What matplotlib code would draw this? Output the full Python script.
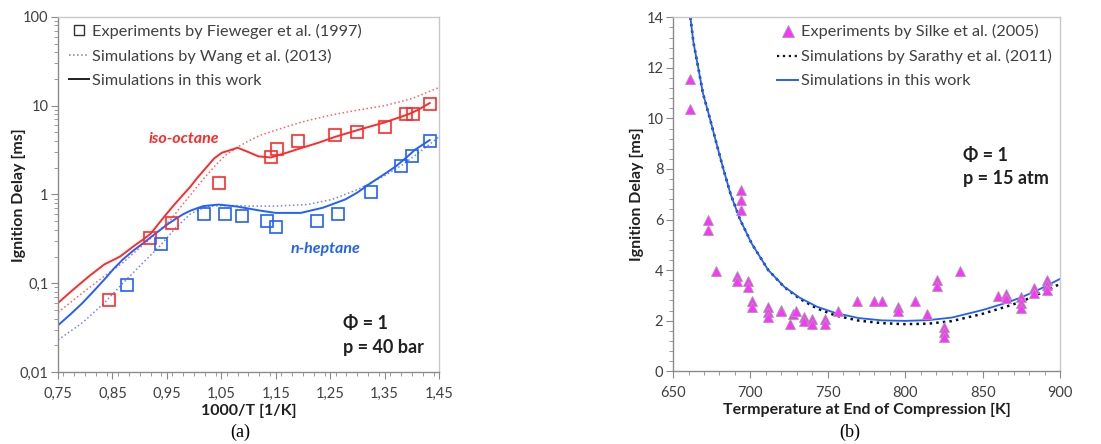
import matplotlib
matplotlib.use("Agg")
import matplotlib.pyplot as plt
from matplotlib.lines import Line2D
from matplotlib.ticker import FixedLocator, MultipleLocator, FuncFormatter, LogLocator, NullFormatter
import numpy as np

plt.rcParams['font.family'] = ['Lato', 'DejaVu Sans']

# ---- panel (a): 1000/T vs ignition delay (log) ----
# experiments, Fieweger et al. (1997)
iso_exp_x = [0.844, 0.919, 0.960, 1.046, 1.141, 1.152, 1.191, 1.259, 1.299, 1.351, 1.389, 1.402, 1.433]
iso_exp_y = [0.065, 0.32, 0.48, 1.35, 2.65, 3.26, 4.0, 4.68, 5.06, 5.77, 8.07, 8.07, 10.5]
hep_exp_x = [0.877, 0.939, 1.018, 1.057, 1.088, 1.134, 1.150, 1.226, 1.265, 1.325, 1.380, 1.400, 1.433]
hep_exp_y = [0.095, 0.277, 0.60, 0.60, 0.57, 0.50, 0.43, 0.50, 0.60, 1.07, 2.1, 2.72, 4.0]

# simulations in this work
iso_sim_x = [0.75, 0.778, 0.807, 0.835, 0.864, 0.892, 0.906, 0.920, 0.935, 0.949, 0.963, 0.977, 0.992,
             1.006, 1.022, 1.037, 1.051, 1.066, 1.080, 1.100, 1.118, 1.141, 1.170, 1.196, 1.230,
             1.259, 1.300, 1.351, 1.395, 1.412, 1.433]
iso_sim_y = [0.060, 0.085, 0.12, 0.163, 0.20, 0.27, 0.31, 0.36, 0.47, 0.60, 0.76, 0.95, 1.2,
             1.54, 2.0, 2.55, 2.95, 3.15, 3.36, 3.0, 2.69, 2.61, 2.95, 3.32, 3.85,
             4.45, 5.3, 6.5, 8.05, 9.0, 10.7]
hep_sim_x = [0.75, 0.775, 0.795, 0.815, 0.835, 0.852, 0.869, 0.889, 0.909, 0.923, 0.938, 0.952, 0.966,
             0.980, 0.994, 1.017, 1.045, 1.080, 1.120, 1.150, 1.196, 1.237, 1.278, 1.300, 1.325,
             1.350, 1.371, 1.390, 1.406, 1.433]
hep_sim_y = [0.0336, 0.046, 0.060, 0.081, 0.11, 0.145, 0.185, 0.235, 0.29, 0.34, 0.40, 0.465, 0.53,
             0.60, 0.66, 0.74, 0.77, 0.73, 0.66, 0.62, 0.62, 0.71, 0.88, 1.05, 1.35,
             1.7, 2.08, 2.6, 3.19, 4.1]

# simulations by Wang et al. (2013)
iso_wang_x = [0.75, 0.795, 0.835, 0.869, 0.909, 0.925, 0.941, 0.957, 0.975, 0.994, 1.008, 1.023,
              1.040, 1.057, 1.083, 1.100, 1.120, 1.150, 1.200, 1.250, 1.300, 1.350, 1.400, 1.450]
iso_wang_y = [0.047, 0.078, 0.12, 0.17, 0.28, 0.34, 0.42, 0.52, 0.72, 1.0, 1.28, 1.64,
              2.15, 2.75, 3.5, 4.0, 4.6, 5.3, 6.6, 7.8, 8.9, 10.0, 12.0, 16.0]
hep_wang_x = [0.75, 0.795, 0.835, 0.869, 0.909, 0.938, 0.966, 0.994, 1.023, 1.050, 1.080, 1.100,
              1.150, 1.208, 1.254, 1.301, 1.348, 1.383, 1.412, 1.450]
hep_wang_y = [0.023, 0.036, 0.060, 0.10, 0.177, 0.266, 0.42, 0.61, 0.73, 0.75, 0.75, 0.74,
              0.74, 0.77, 0.88, 1.14, 1.6, 2.16, 2.92, 4.45]

# ---- panel (b): temperature vs ignition delay ----
silke_T = [661.2, 661.2, 672.9, 672.9, 677.7, 691.2, 691.2, 693.7, 693.7, 693.7, 698.7, 698.7,
           701.3, 701.3, 711.3, 711.3, 711.3, 719.8, 719.8, 725.5, 727.8, 729.7, 734.7, 734.7,
           740.0, 740.0, 748.1, 748.1, 756.8, 768.8, 779.9, 785.1, 795.2, 795.2, 806.3, 814.0,
           820.8, 820.8, 825.3, 825.3, 825.3, 835.2, 859.8, 864.8, 864.8, 874.8, 874.8, 874.8,
           883.0, 883.0, 891.5, 891.5, 891.5]
silke_tau = [11.57, 10.36, 5.97, 5.57, 3.97, 3.76, 3.55, 7.18, 6.79, 6.37, 3.56, 3.35,
             2.77, 2.53, 2.53, 2.34, 2.16, 2.44, 2.40, 1.88, 2.27, 2.38, 2.15, 1.98,
             2.05, 1.87, 2.07, 1.87, 2.37, 2.78, 2.78, 2.78, 2.55, 2.38, 2.78, 2.27,
             3.62, 3.38, 1.75, 1.55, 1.36, 3.98, 2.97, 3.06, 2.88, 2.93, 2.70, 2.49,
             3.30, 3.09, 3.60, 3.40, 3.20]

work_T = [661.2, 663.2, 666.3, 669.3, 673.8, 678.1, 682.5, 687.2, 693.3, 700.8, 711.5, 722.0,
          732.0, 743.0, 755.0, 770.0, 785.0, 800.0, 815.0, 830.0, 850.0, 865.0, 875.0, 887.0, 900.0]
work_tau = [14.0, 13.0, 12.0, 11.0, 10.0, 9.0, 8.0, 7.0, 6.0, 5.05, 4.0, 3.33,
            2.9, 2.55, 2.3, 2.1, 2.01, 1.99, 2.02, 2.12, 2.42, 2.7, 2.92, 3.25, 3.65]
sarathy_T = [661.2, 663.2, 666.3, 669.3, 673.8, 678.1, 682.5, 687.2, 693.3, 700.8, 711.5, 722.0,
             732.0, 743.0, 755.0, 770.0, 785.0, 800.0, 815.0, 830.0, 850.0, 865.0, 875.0, 887.0, 900.0]
sarathy_tau = [14.0, 13.0, 12.0, 11.0, 10.0, 9.0, 8.0, 7.0, 6.0, 5.05, 4.0, 3.32,
               2.86, 2.48, 2.2, 2.0, 1.9, 1.86, 1.88, 1.98, 2.27, 2.55, 2.75, 3.08, 3.45]

RED = '#ff2a2a'
RED_L = '#ff6060'
BLUE = '#2060ff'
BLUE_L = '#7f7fe8'
TXT = '#404040'
DARK = '#202020'

fig = plt.figure(figsize=(11.01, 4.44), dpi=100)

def style_axes(ax):
    for s in ['top', 'right']:
        ax.spines[s].set_color('#c8c8c8')
    for s in ['left', 'bottom']:
        ax.spines[s].set_color('#8a8a8a')
    for s in ax.spines.values():
        s.set_linewidth(1.0)
    ax.tick_params(which='both', direction='out', colors='#8a8a8a', labelcolor=TXT, labelsize=10.5)
    ax.tick_params(which='major', length=5)
    ax.tick_params(which='minor', length=3)
    ax.tick_params(axis='x', which='major', pad=6)
    ax.tick_params(axis='y', which='major', pad=2)

# ---------------- (a) ----------------
ax1 = fig.add_axes([0.0527, 0.162, 0.346, 0.8])
ax1.set_yscale('log')
ax1.plot(iso_wang_x, iso_wang_y, ':', color=RED_L, lw=1.1)
ax1.plot(hep_wang_x, hep_wang_y, ':', color=BLUE_L, lw=1.1)
ax1.plot(iso_sim_x, iso_sim_y, '-', color=RED, lw=1.4)
ax1.plot(hep_sim_x, hep_sim_y, '-', color=BLUE, lw=1.4)
ax1.plot(iso_exp_x, iso_exp_y, 's', ms=9, mfc='none', mec=RED, mew=1.2)
ax1.plot(hep_exp_x, hep_exp_y, 's', ms=9, mfc='none', mec=BLUE, mew=1.2)
ax1.set_xlim(0.75, 1.45)
ax1.set_ylim(0.01, 100)
ax1.xaxis.set_major_locator(FixedLocator(np.round(np.arange(0.75, 1.451, 0.1), 2)))
ax1.xaxis.set_minor_locator(MultipleLocator(0.02))
ax1.xaxis.set_major_formatter(FuncFormatter(lambda v, p: f'{v:.2f}'.replace('.', ',')))
ax1.yaxis.set_major_formatter(FuncFormatter(lambda v, p: f'{v:g}'.replace('.', ',')))
ax1.yaxis.set_minor_locator(LogLocator(base=10, subs=np.arange(2, 10)))
ax1.yaxis.set_minor_formatter(NullFormatter())
style_axes(ax1)
ax1.set_xlabel('1000/T [1/K]', fontsize=11.5, fontweight='bold', color=DARK, labelpad=2)
fig.text(19 / 1101, 1 - 195 / 444, 'Ignition Delay [ms]', rotation=90, ha='center', va='center',
         fontsize=11.5, fontweight='bold', color=DARK)
ax1.text(0.981, 4.2, 'iso-octane', color=RED, fontsize=11.5, fontweight='bold', style='italic', ha='center', va='center')
ax1.text(1.242, 0.243, 'n-heptane', color=BLUE, fontsize=11.5, fontweight='bold', style='italic', ha='center', va='center')
ax1.text(1.274, 0.0356, 'Φ = 1', fontsize=13, fontweight='bold', color=DARK, va='center')
ax1.text(1.274, 0.0191, 'p = 40 bar', fontsize=13, fontweight='bold', color=DARK, va='center')
h1 = [Line2D([], [], ls='none', marker='s', ms=7, mfc='none', mec='#303030', mew=1.0),
      Line2D([], [], ls=':', color='#808080', lw=1.1),
      Line2D([], [], ls='-', color=DARK, lw=1.4)]
l1 = ['Experiments by Fieweger et al. (1997)', 'Simulations by Wang et al. (2013)', 'Simulations in this work']
ax1.legend(h1, l1, loc='upper left', bbox_to_anchor=(-0.010, 1.022), frameon=False, fontsize=11.7,
           handlelength=1.25, handletextpad=0.2, labelspacing=0.61, labelcolor=TXT)
fig.text(0.218, 0.027, '(a)', family='Liberation Serif', fontsize=13, ha='center', va='center')

# ---------------- (b) ----------------
ax2 = fig.add_axes([0.6113, 0.164, 0.3515, 0.797])
ax2.plot(sarathy_T, sarathy_tau, ':', color='#101010', lw=1.8)
ax2.plot(work_T, work_tau, '-', color=BLUE, lw=1.3)
ax2.plot(silke_T, silke_tau, '^', ms=7.5, color='#ff33ff', mec='#a0a0a0', mew=0.6, ls='none')
ax2.set_xlim(650, 900)
ax2.set_ylim(0, 14)
ax2.xaxis.set_major_locator(MultipleLocator(50))
ax2.xaxis.set_minor_locator(MultipleLocator(10))
ax2.yaxis.set_major_locator(MultipleLocator(2))
ax2.yaxis.set_minor_locator(MultipleLocator(0.4))
style_axes(ax2)
ax2.set_xlabel('Termperature at End of Compression [K]', fontsize=11.5, fontweight='bold', color=DARK, labelpad=2)
fig.text(637 / 1101, 1 - 194 / 444, 'Ignition Delay [ms]', rotation=90, ha='center', va='center',
         fontsize=11.5, fontweight='bold', color=DARK)
ax2.text(837.5, 8.54, 'Φ = 1', fontsize=13, fontweight='bold', color=DARK, va='center')
ax2.text(837.5, 7.63, 'p = 15 atm', fontsize=13, fontweight='bold', color=DARK, va='center')
h2 = [Line2D([], [], ls='none', marker='^', ms=8, color='#ff33ff', mec='#a0a0a0', mew=0.6),
      Line2D([], [], ls=':', color='#101010', lw=1.6),
      Line2D([], [], ls='-', color=BLUE, lw=1.4)]
l2 = ['Experiments by Silke et al. (2005)', 'Simulations by Sarathy et al. (2011)', 'Simulations in this work']
ax2.legend(h2, l2, loc='upper left', bbox_to_anchor=(0.232, 1.022), frameon=False, fontsize=11.7,
           handlelength=1.25, handletextpad=0.2, labelspacing=0.61, labelcolor=TXT)
fig.text(0.772, 0.027, '(b)', family='Liberation Serif', fontsize=13, ha='center', va='center')

fig.savefig('out.png', dpi=100)
